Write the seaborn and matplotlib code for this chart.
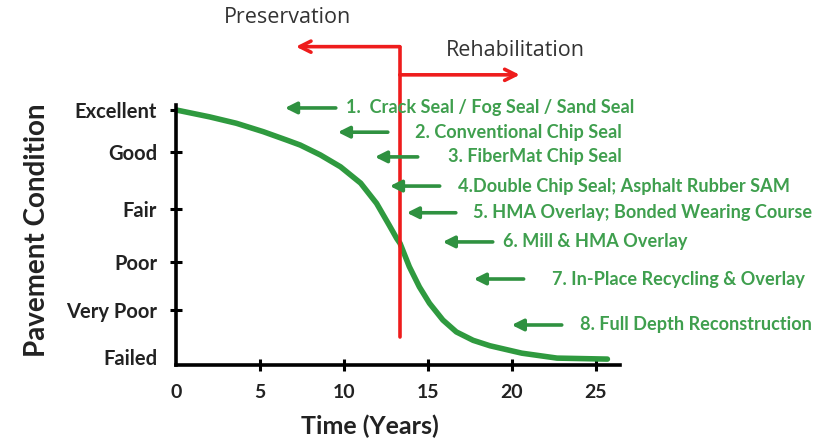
import matplotlib
matplotlib.use('Agg')
import matplotlib.pyplot as plt
import seaborn as sns
import pandas as pd

# pavement deterioration curve
years = [0, 2.0, 3.6, 5.2, 6.6, 7.4, 8.6, 9.8, 11.0, 11.95, 12.7, 13.15, 13.35, 13.9,
         14.5, 15.1, 15.9, 16.7, 17.7, 18.7, 20.6, 22.7, 25.7]
condition = [5.0, 4.86, 4.73, 4.56, 4.39, 4.29, 4.09, 3.85, 3.52, 3.11, 2.67, 2.40, 2.30,
             1.83, 1.42, 1.09, 0.75, 0.51, 0.34, 0.23, 0.08, -0.02, -0.04]
levels = ['Failed', 'Very Poor', 'Poor', 'Fair', 'Good', 'Excellent']
level_values = [0, 0.95, 1.93, 3.0, 4.15, 5.0]
year_ticks = [0, 5, 10, 15, 20, 25]
treatments = ['1.  Crack Seal / Fog Seal / Sand Seal', '2. Conventional Chip Seal',
              '3. FiberMat Chip Seal', '4.Double Chip Seal; Asphalt Rubber SAM',
              '5. HMA Overlay; Bonded Wearing Course', '6. Mill & HMA Overlay',
              '7. In-Place Recycling & Overlay', '8. Full Depth Reconstruction']
split_year = 13.33

# layout of the treatment arrows (tip x, tail x, text x, y) in data units
arrow_tip = [6.49, 9.64, 11.85, 12.74, 13.75, 15.89, 17.74, 20.0]
arrow_tail = [9.52, 12.62, 14.40, 15.71, 16.67, 18.87, 20.71, 22.98]
text_x = [10.12, 14.23, 16.19, 16.79, 17.68, 19.46, 22.38, 24.05]
row_y = [5.04, 4.55, 4.05, 3.46, 2.92, 2.33, 1.58, 0.65]

sns.set_theme(style="white")
plt.rcParams['font.family'] = ['Lato', 'DejaVu Sans']

df = pd.DataFrame({'Time (Years)': years, 'Pavement Condition': condition})

fig = plt.figure(figsize=(8.34, 4.43), dpi=100)
ax = fig.add_axes([0.211, 0.176, 0.532, 0.587])
sns.lineplot(data=df, x='Time (Years)', y='Pavement Condition', color='#2f9a3f',
             lw=4, ax=ax, solid_capstyle='round', solid_joinstyle='round')

ax.set_xlim(0, 26.43)
ax.set_ylim(-0.16, 5.10)
for side in ['top', 'right']:
    ax.spines[side].set_visible(False)
for side in ['left', 'bottom']:
    ax.spines[side].set_linewidth(2.6)
    ax.spines[side].set_color('black')

ax.set_xticks(year_ticks)
ax.set_xticklabels([str(v) for v in year_ticks], fontsize=14, fontweight='bold', color='#222222')
ax.set_yticks(level_values)
ax.set_yticklabels(levels, fontsize=14.5, fontweight='bold', color='#222222')
ax.tick_params(axis='both', which='major', direction='inout', length=9, width=2.2,
               color='black', left=True, bottom=True)
ax.tick_params(axis='y', pad=9)
ax.tick_params(axis='x', pad=9)
ax.xaxis.get_major_ticks()[0].tick1line.set_visible(False)
ax.yaxis.get_major_ticks()[0].tick1line.set_visible(False)

ax.set_xlabel('Time (Years)', fontsize=18, fontweight='bold', color='#222222')
ax.xaxis.set_label_coords(0.437, -0.19)
ax.set_ylabel('Pavement Condition', fontsize=20, fontweight='bold', color='#222222')
ax.yaxis.set_label_coords(-0.285, 0.52)

# preservation / rehabilitation divider
red = '#ee1c1c'
ax.plot([split_year, split_year], [0.40, 6.28], color=red, lw=2.6, clip_on=False)
ax.annotate('', xy=(7.14, 6.28), xytext=(split_year, 6.28), annotation_clip=False,
            arrowprops=dict(arrowstyle='->', color=red, lw=2.6, mutation_scale=20,
                            shrinkA=0, shrinkB=0))
ax.annotate('', xy=(20.48, 5.71), xytext=(split_year, 5.71), annotation_clip=False,
            arrowprops=dict(arrowstyle='->', color=red, lw=2.6, mutation_scale=20,
                            shrinkA=0, shrinkB=0))
ax.text(6.67, 6.86, 'Preservation', ha='center', va='center', fontsize=15.5,
        family=['Open Sans', 'DejaVu Sans'], color='#333333', clip_on=False)
ax.text(20.24, 6.21, 'Rehabilitation', ha='center', va='center', fontsize=15.5,
        family=['Open Sans', 'DejaVu Sans'], color='#333333', clip_on=False)

# treatment arrows
for label, tip, tail, tx, y in zip(treatments, arrow_tip, arrow_tail, text_x, row_y):
    ax.annotate('', xy=(tip, y), xytext=(tail, y), annotation_clip=False,
                arrowprops=dict(arrowstyle='-|>', color='#2f9140', lw=2.6,
                                mutation_scale=17, shrinkA=0, shrinkB=0))
    ax.text(tx, y, label, ha='left', va='center', fontsize=13.1, fontweight='bold',
            color='#3f9f4e', clip_on=False)

fig.savefig('out.png', dpi=100)
